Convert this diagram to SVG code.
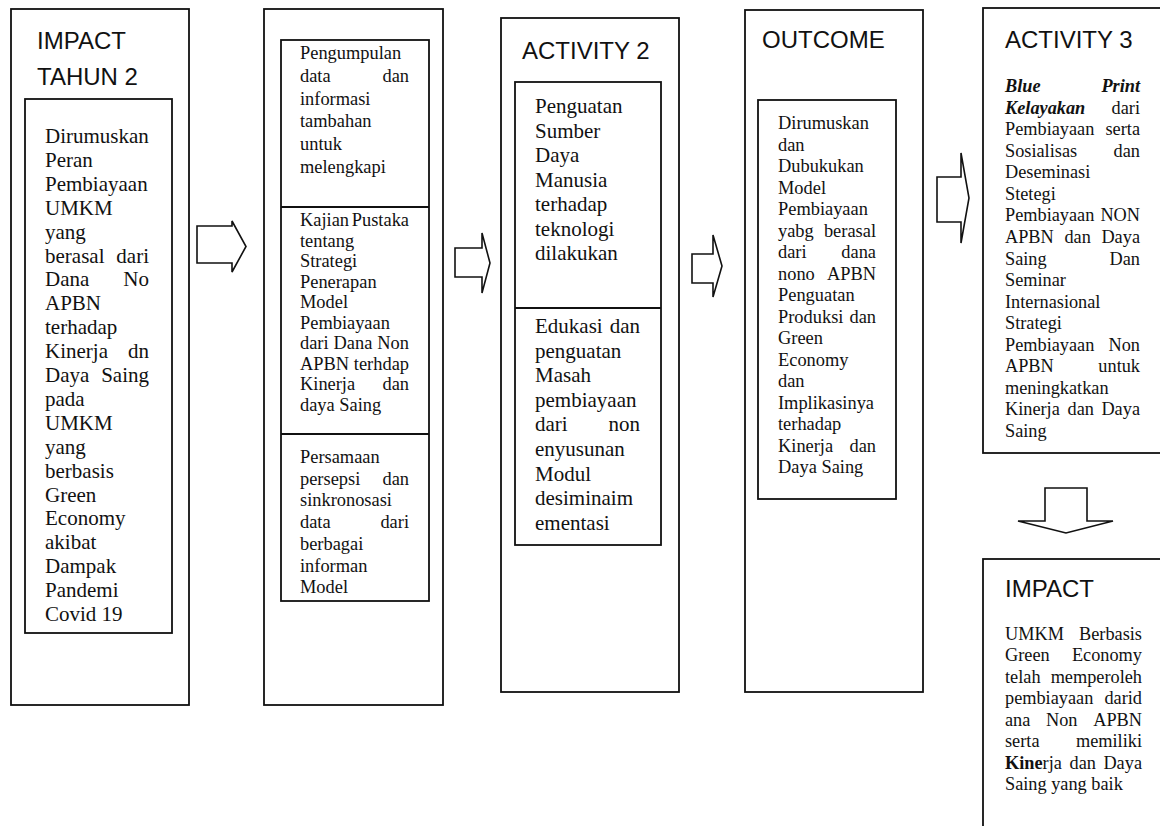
<svg xmlns="http://www.w3.org/2000/svg" width="1160" height="826" viewBox="0 0 1160 826">
<style>
.box{fill:#fff;stroke:#111;stroke-width:1.8}
.ln{stroke:#111;stroke-width:1.8}
.arr{fill:#fff;stroke:#111;stroke-width:1.6;stroke-linejoin:miter}
.h{font-family:"Liberation Sans",Arial,sans-serif;font-size:24px;fill:#111}
.t{font-family:"Liberation Serif","Times New Roman",serif;font-size:18.4px;fill:#111}
.L{font-size:21px}
.e{text-anchor:end}
.bi{font-weight:bold;font-style:italic}
.b{font-weight:bold}
</style>
<rect width="1160" height="826" fill="#fff"/>

<g id="impact-tahun-2">
<rect class="box" x="11" y="9" width="178" height="696"/>
<text class="h" x="37" y="49">IMPACT</text>
<text class="h" x="37" y="85">TAHUN 2</text>
<rect class="box" x="25" y="99" width="147" height="534"/>
<g class="t L">
<text x="45" y="143">Dirumuskan</text>
<text x="45" y="166.9">Peran</text>
<text x="45" y="190.8">Pembiayaan</text>
<text x="45" y="214.7">UMKM</text>
<text x="45" y="238.6">yang</text>
<text x="45" y="262.5">berasal</text><text class="e" x="149" y="262.5">dari</text>
<text x="45" y="286.4">Dana</text><text class="e" x="149" y="286.4">No</text>
<text x="45" y="310.3">APBN</text>
<text x="45" y="334.2">terhadap</text>
<text x="45" y="358.1">Kinerja</text><text class="e" x="149" y="358.1">dn</text>
<text x="45" y="382">Daya</text><text class="e" x="149" y="382">Saing</text>
<text x="45" y="405.9">pada</text>
<text x="45" y="429.8">UMKM</text>
<text x="45" y="453.7">yang</text>
<text x="45" y="477.6">berbasis</text>
<text x="45" y="501.5">Green</text>
<text x="45" y="525.4">Economy</text>
<text x="45" y="549.3">akibat</text>
<text x="45" y="573.2">Dampak</text>
<text x="45" y="597.1">Pandemi</text>
<text x="45" y="621">Covid 19</text>
</g>
</g>

<g id="activity-1">
<rect class="box" x="264" y="9" width="179" height="696"/>
<rect class="box" x="281" y="40" width="148" height="561"/>
<line class="ln" x1="281" y1="207" x2="429" y2="207"/>
<line class="ln" x1="281" y1="434" x2="429" y2="434"/>
<g class="t">
<text x="300" y="59">Pengumpulan</text>
<text x="300" y="81.8">data</text><text class="e" x="409" y="81.8">dan</text>
<text x="300" y="104.6">informasi</text>
<text x="300" y="127.4">tambahan</text>
<text x="300" y="150.2">untuk</text>
<text x="300" y="173">melengkapi</text>

<text x="300" y="226">Kajian</text><text class="e" x="409" y="226">Pustaka</text>
<text x="300" y="246.5">tentang</text>
<text x="300" y="267">Strategi</text>
<text x="300" y="287.5">Penerapan</text>
<text x="300" y="308">Model</text>
<text x="300" y="328.5">Pembiayaan</text>
<text x="300" y="349">dari</text><text x="333.6" y="349">Dana</text><text class="e" x="409" y="349">Non</text>
<text x="300" y="369.5">APBN</text><text class="e" x="409" y="369.5">terhdap</text>
<text x="300" y="390">Kinerja</text><text class="e" x="409" y="390">dan</text>
<text x="300" y="410.5">daya Saing</text>

<text x="300" y="463">Persamaan</text>
<text x="300" y="484.7">persepsi</text><text class="e" x="409" y="484.7">dan</text>
<text x="300" y="506.4">sinkronosasi</text>
<text x="300" y="528.1">data</text><text class="e" x="409" y="528.1">dari</text>
<text x="300" y="549.8">berbagai</text>
<text x="300" y="571.5">informan</text>
<text x="300" y="593.2">Model</text>
</g>
</g>

<g id="activity-2">
<rect class="box" x="501" y="18" width="178" height="674"/>
<text class="h" x="522" y="59">ACTIVITY 2</text>
<rect class="box" x="515" y="82" width="146" height="463"/>
<line class="ln" x1="515" y1="308" x2="661" y2="308"/>
<g class="t L">
<text x="535" y="113">Penguatan</text>
<text x="535" y="137.5">Sumber</text>
<text x="535" y="162">Daya</text>
<text x="535" y="186.5">Manusia</text>
<text x="535" y="211">terhadap</text>
<text x="535" y="235.5">teknologi</text>
<text x="535" y="260">dilakukan</text>
<text x="535" y="333">Edukasi</text><text class="e" x="640" y="333">dan</text>
<text x="535" y="357.6">penguatan</text>
<text x="535" y="382.2">Masah</text>
<text x="535" y="406.8">pembiayaan</text>
<text x="535" y="431.4">dari</text><text class="e" x="640" y="431.4">non</text>
<text x="535" y="456">enyusunan</text>
<text x="535" y="480.6">Modul</text>
<text x="535" y="505.2">desiminaim</text>
<text x="535" y="529.8">ementasi</text>
</g>
</g>

<g id="outcome">
<rect class="box" x="745" y="10" width="178" height="682"/>
<text class="h" x="762" y="48">OUTCOME</text>
<rect class="box" x="758" y="100" width="138" height="399"/>
<g class="t">
<text x="778" y="129">Dirumuskan</text>
<text x="778" y="150.5">dan</text>
<text x="778" y="172">Dubukukan</text>
<text x="778" y="193.5">Model</text>
<text x="778" y="215">Pembiayaan</text>
<text x="778" y="236.5">yabg</text><text class="e" x="876" y="236.5">berasal</text>
<text x="778" y="258">dari</text><text class="e" x="876" y="258">dana</text>
<text x="778" y="279.5">nono</text><text class="e" x="876" y="279.5">APBN</text>
<text x="778" y="301">Penguatan</text>
<text x="778" y="322.5">Produksi</text><text class="e" x="876" y="322.5">dan</text>
<text x="778" y="344">Green</text>
<text x="778" y="365.5">Economy</text>
<text x="778" y="387">dan</text>
<text x="778" y="408.5">Implikasinya</text>
<text x="778" y="430">terhadap</text>
<text x="778" y="451.5">Kinerja</text><text class="e" x="876" y="451.5">dan</text>
<text x="778" y="473">Daya Saing</text>
</g>
</g>

<g id="activity-3">
<rect class="box" x="983" y="8" width="190" height="445"/>
<text class="h" x="1005" y="48">ACTIVITY 3</text>
<g class="t" style="font-size:18.3px">
<text class="bi" x="1005" y="92">Blue</text><text class="bi e" x="1140" y="92">Print</text>
<text class="bi" x="1005" y="113.6">Kelayakan</text><text class="e" x="1140" y="113.6">dari</text>
<text x="1005" y="135.1">Pembiayaan</text><text class="e" x="1140" y="135.1">serta</text>
<text x="1005" y="156.7">Sosialisas</text><text class="e" x="1140" y="156.7">dan</text>
<text x="1005" y="178.2">Deseminasi</text>
<text x="1005" y="199.8">Stetegi</text>
<text x="1005" y="221.4">Pembiayaan</text><text class="e" x="1140" y="221.4">NON</text>
<text x="1005" y="242.9">APBN</text><text x="1064.4" y="242.9">dan</text><text class="e" x="1140" y="242.9">Daya</text>
<text x="1005" y="264.5">Saing</text><text class="e" x="1140" y="264.5">Dan</text>
<text x="1005" y="286">Seminar</text>
<text x="1005" y="307.6">Internasional</text>
<text x="1005" y="329.2">Strategi</text>
<text x="1005" y="350.7">Pembiayaan</text><text class="e" x="1140" y="350.7">Non</text>
<text x="1005" y="372.3">APBN</text><text class="e" x="1140" y="372.3">untuk</text>
<text x="1005" y="393.8">meningkatkan</text>
<text x="1005" y="415.4">Kinerja</text><text x="1067.5" y="415.4">dan</text><text class="e" x="1140" y="415.4">Daya</text>
<text x="1005" y="437">Saing</text>
</g>
</g>

<g id="impact">
<rect class="box" x="983" y="559" width="190" height="290"/>
<text class="h" x="1005" y="597">IMPACT</text>
<g class="t" style="font-size:18.3px">
<text x="1005" y="640">UMKM</text><text class="e" x="1142" y="640">Berbasis</text>
<text x="1005" y="661.4">Green</text><text class="e" x="1142" y="661.4">Economy</text>
<text x="1005" y="682.9">telah</text><text class="e" x="1142" y="682.9">memperoleh</text>
<text x="1005" y="704.3">pembiayaan</text><text class="e" x="1142" y="704.3">darid</text>
<text x="1005" y="725.7">ana</text><text x="1046" y="725.7">Non</text><text class="e" x="1142" y="725.7">APBN</text>
<text x="1005" y="747.2">serta</text><text class="e" x="1142" y="747.2">memiliki</text>
<text x="1005" y="768.6"><tspan class="b">Kine</tspan>rja</text><text x="1069.5" y="768.6">dan</text><text class="e" x="1142" y="768.6">Daya</text>
<text x="1005" y="790">Saing yang baik</text>
</g>
</g>

<g id="connectors">
<polygon class="arr" points="197,226 232,226 232,221 246,246.5 232,272 232,263 197,263"/>
<polygon class="arr" points="455,248 482,248 482,233 490,263 482,293 482,277 455,277"/>
<polygon class="arr" points="692,254 713,254 713,235 722,266 713,297 713,283 692,283"/>
<polygon class="arr" points="937,177 961,177 961,153 969,198 961,243 961,222 937,222"/>
<polygon class="arr" points="1045,488 1087,488 1087,521 1113,521 1066,533 1018,521 1045,521"/>
</g>
</svg>
